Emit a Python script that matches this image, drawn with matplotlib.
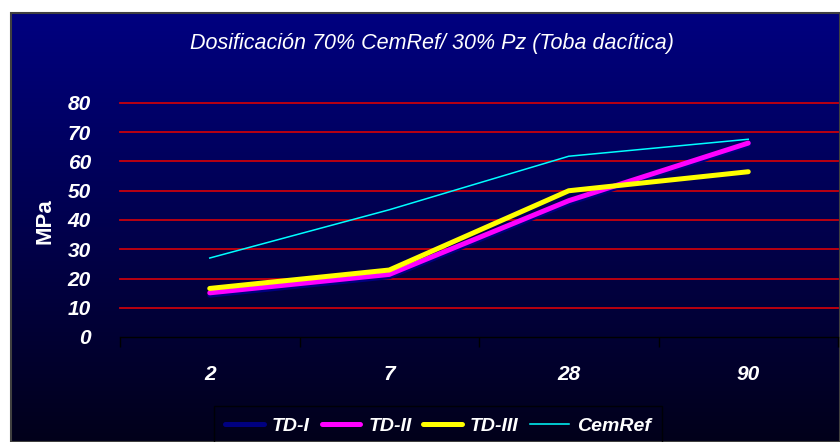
import numpy as np
import matplotlib
matplotlib.use("Agg")
import matplotlib.pyplot as plt
from matplotlib.patches import Rectangle

# data
edades = ["2", "7", "28", "90"]
td_i = [14.3, 20.6, 45.8, 65.6]
td_ii = [15.1, 21.4, 46.6, 66.3]
td_iii = [16.6, 22.9, 50.0, 56.5]
cemref = [27.0, 43.5, 61.8, 67.6]
yticks = [0, 10, 20, 30, 40, 50, 60, 70, 80]

plt.rcParams['font.family'] = ['Liberation Sans', 'DejaVu Sans']

fig = plt.figure(figsize=(8.4, 4.42), dpi=100)
fig.patch.set_facecolor("white")

# background panel with navy -> black gradient
bg = fig.add_axes([11/840, 0, 1 - 11/840, 1 - 13/442])
grad = np.linspace(0, 1, 256).reshape(-1, 1)
top = np.array([0, 0, 128]) / 255
bot = np.array([2, 0, 26]) / 255
img = top[None, None, :] * (1 - grad[:, :, None]) + bot[None, None, :] * grad[:, :, None]
bg.imshow(img, aspect="auto", extent=[0, 1, 0, 1])
bg.set_xlim(0, 1)
bg.set_ylim(0, 1)
bg.axis("off")
bg.add_patch(Rectangle((0, 0), 1, 1, fill=False, edgecolor="#404040", lw=1.5,
                       transform=bg.transAxes, clip_on=False))

ax = fig.add_axes([120/840, 1 - 337/442, 718/840, (337 - 103)/442])
ax.patch.set_alpha(0)
x = np.arange(len(edades))
ax.set_xlim(-0.5, len(edades) - 0.5)
ax.set_ylim(0, 80)

for v in yticks[1:]:
    ax.axhline(v, color="#c8000c", lw=1.3, zorder=1, clip_on=False)

ax.plot(x, td_i, color="#000080", lw=3.6, label="TD-I", zorder=3, solid_capstyle="round")
ax.plot(x, td_ii, color="#ff00ff", lw=3.6, label="TD-II", zorder=4, solid_capstyle="round")
ax.plot(x, td_iii, color="#ffff00", lw=3.6, label="TD-III", zorder=5, solid_capstyle="round")
ax.plot(x, cemref, color="#00ffff", lw=1.1, label="CemRef", zorder=6)

for s in ["top", "right", "left"]:
    ax.spines[s].set_visible(False)
ax.spines["bottom"].set_color("black")
ax.spines["bottom"].set_linewidth(1)

ax.set_yticks(yticks)
ax.set_yticklabels([str(v) for v in yticks], fontsize=15, fontweight="bold",
                   fontstyle="italic", color="white")
ax.tick_params(axis="y", length=0, pad=21)

ax.set_xticks(x)
ax.set_xticklabels(edades, fontsize=15, fontweight="bold", fontstyle="italic", color="white")
ax.set_xticks(np.arange(-0.5, len(edades)), minor=True)
ax.tick_params(axis="x", which="major", length=0, pad=20)
ax.tick_params(axis="x", which="minor", length=7, color="black", width=1)

fig.text(45/840, 1 - 221/442, "MPa", rotation=90, fontsize=16, fontweight="bold",
         color="white", ha="center", va="center")
fig.text(432/840, 1 - 43/442, "Dosificación 70% CemRef/ 30% Pz (Toba dacítica)",
         fontsize=15.5, fontstyle="italic", color="white", ha="center", va="center")

leg = fig.legend(loc="center", bbox_to_anchor=(438/840, 1 - 426/442), ncol=4,
                 frameon=True, handlelength=2.0, handletextpad=0.4, columnspacing=0.6,
                 prop={"size": 14, "weight": "bold", "style": "italic"})
leg.get_frame().set_facecolor("none")
leg.get_frame().set_edgecolor("black")
leg.get_frame().set_boxstyle("square", pad=0.2)
for t in leg.get_texts():
    t.set_color("white")

fig.savefig("out.png", dpi=100, facecolor=fig.get_facecolor())
